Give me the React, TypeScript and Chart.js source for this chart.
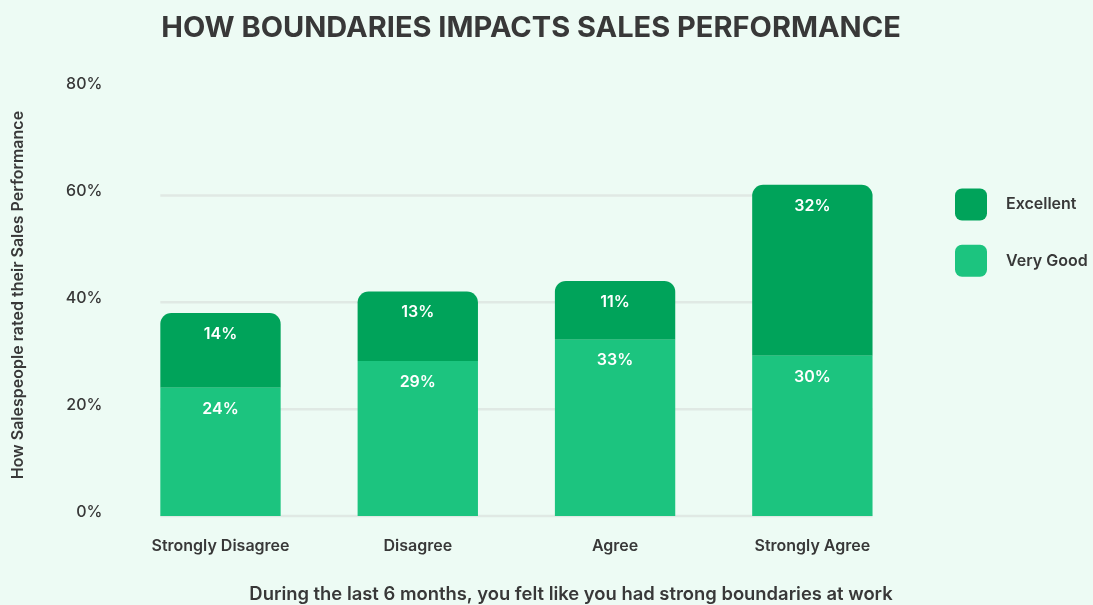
import React, { useEffect, useRef } from "react";
import { Chart, registerables } from "chart.js";

Chart.register(...registerables);

const categories = ["Strongly Disagree", "Disagree", "Agree", "Strongly Agree"];
const veryGood = [24, 29, 33, 30];
const excellent = [14, 13, 11, 32];
const seriesNames = ["Very Good", "Excellent"];
const yMax = 80;
const yStep = 20;
const chartTitle = "HOW BOUNDARIES IMPACTS SALES PERFORMANCE";
const xTitle = "During the last 6 months, you felt like you had strong boundaries at work";
const yTitle = "How Salespeople rated their Sales Performance";

const bgColor = "#EDFBF4";
const textColor = "#383838";
const veryGoodColor = "#1CC47F";
const excellentColor = "#00A35A";
const gridColor = "#E0E9E4";
const FONT = "Inter, 'Noto Sans', sans-serif";

export default function App() {
  const ref = useRef<HTMLCanvasElement>(null);

  useEffect(() => {
    if (!ref.current) return;

    const gridPlugin = {
      id: "customGrid",
      beforeDatasetsDraw(chart: any) {
        const ctx = chart.ctx;
        const y = chart.scales.y;
        const bars = chart.getDatasetMeta(0).data;
        if (!bars.length) return;
        const f = bars[0].getProps(["x", "width"], true);
        const l = bars[bars.length - 1].getProps(["x", "width"], true);
        const x0 = f.x - f.width / 2;
        const x1 = l.x + l.width / 2;
        ctx.save();
        ctx.strokeStyle = gridColor;
        ctx.lineWidth = 2.5;
        y.ticks.forEach((t: any) => {
          if (t.value >= y.max) return;
          const py = y.getPixelForValue(t.value);
          ctx.beginPath();
          ctx.moveTo(x0, py);
          ctx.lineTo(x1, py);
          ctx.stroke();
        });
        ctx.restore();
      },
    };

    const labelPlugin = {
      id: "barLabels",
      afterDatasetsDraw(chart: any) {
        const ctx = chart.ctx;
        ctx.save();
        ctx.fillStyle = "#FFFFFF";
        ctx.font = `600 16px ${FONT}`;
        ctx.textAlign = "center";
        ctx.textBaseline = "middle";
        chart.data.datasets.forEach((ds: any, di: number) => {
          const meta = chart.getDatasetMeta(di);
          meta.data.forEach((bar: any, i: number) => {
            const p = bar.getProps(["x", "y"], true);
            ctx.fillText(`${ds.data[i]}%`, p.x, p.y + 21);
          });
        });
        ctx.restore();
      },
    };

    const textPlugin = {
      id: "texts",
      afterDraw(chart: any) {
        const ctx = chart.ctx;
        ctx.save();
        ctx.fillStyle = textColor;
        ctx.textAlign = "center";
        ctx.textBaseline = "middle";
        ctx.font = `700 29px ${FONT}`;
        ctx.fillText(chartTitle, 531, 28);
        ctx.font = `600 18.4px ${FONT}`;
        ctx.fillText(xTitle, 571, 594);
        ctx.save();
        ctx.translate(18, 295);
        ctx.rotate(-Math.PI / 2);
        ctx.font = `600 16px ${FONT}`;
        ctx.fillText(yTitle, 0, 0);
        ctx.restore();

        // legend
        const items = chart.data.datasets
          .map((d: any) => ({ label: d.label, color: d.backgroundColor }))
          .reverse();
        items.forEach((it: any, i: number) => {
          const bx = 955;
          const by = 188.5 + i * 56.3;
          ctx.fillStyle = it.color;
          ctx.beginPath();
          (ctx as any).roundRect(bx, by, 32, 32, 7);
          ctx.fill();
          ctx.fillStyle = textColor;
          ctx.textAlign = "left";
          ctx.font = `600 16px ${FONT}`;
          ctx.fillText(it.label, 1006, by + 16);
        });
        ctx.restore();
      },
    };

    const chart = new Chart(ref.current, {
      type: "bar",
      data: {
        labels: categories,
        datasets: [
          {
            label: seriesNames[0],
            data: veryGood,
            backgroundColor: veryGoodColor,
            borderWidth: 0,
            borderRadius: 0,
            barPercentage: 0.61,
            categoryPercentage: 1,
          },
          {
            label: seriesNames[1],
            data: excellent,
            backgroundColor: excellentColor,
            borderWidth: 0,
            borderSkipped: false,
            borderRadius: { topLeft: 11, topRight: 11, bottomLeft: 0, bottomRight: 0 },
            barPercentage: 0.61,
            categoryPercentage: 1,
          },
        ],
      },
      options: {
        responsive: false,
        animation: false,
        layout: { padding: { top: 88.5, right: 182, bottom: 0, left: 0 } },
        plugins: {
          legend: { display: false },
          title: { display: false },
          tooltip: { enabled: false },
        },
        scales: {
          x: {
            stacked: true,
            grid: { display: false, drawTicks: false },
            border: { display: false },
            ticks: {
              padding: 21,
              color: textColor,
              font: { family: FONT, size: 16, weight: "600" },
            },
            afterFit(s: any) {
              s.height = 89;
            },
          },
          y: {
            stacked: true,
            min: 0,
            max: yMax,
            grid: { display: false, drawTicks: false },
            border: { display: false },
            ticks: {
              stepSize: yStep,
              padding: 19.5,
              labelOffset: -4,
              color: textColor,
              font: { family: FONT, size: 16, weight: "500" },
              callback: (v: any) => `${v}%`,
            },
            afterFit(s: any) {
              s.width = 121.85;
            },
          },
        },
      },
      plugins: [gridPlugin, labelPlugin, textPlugin],
    } as any);

    return () => chart.destroy();
  }, []);

  return (
    <div
      style={{
        position: "absolute",
        top: 0,
        left: 0,
        width: 1093,
        height: 605,
        background: bgColor,
      }}
    >
      <canvas ref={ref} width={1093} height={605} style={{ display: "block" }} />
    </div>
  );
}
